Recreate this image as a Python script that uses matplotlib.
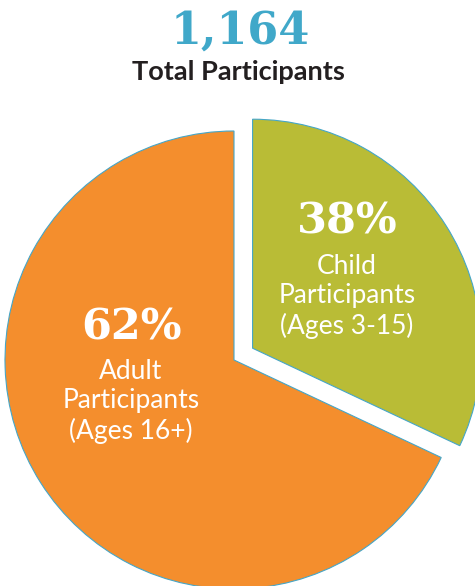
import matplotlib.pyplot as plt

# datos del gráfico
total = "1,164"
groups = ["Child\nParticipants\n(Ages 3-15)", "Adult\nParticipants\n(Ages 16+)"]
pct_labels = ["38%", "62%"]
# ángulos tal como están dibujados en la imagen (no coinciden exactamente con 38/62)
drawn_share = [32, 68]
colors = ["#B9BC36", "#F48E2D"]

W, H = 475, 586
fig = plt.figure(figsize=(W / 100, H / 100), dpi=100)
fig.patch.set_facecolor("white")
ax = fig.add_axes([0, 0, 1, 1])

wedges, _ = ax.pie(drawn_share, colors=colors, startangle=90, counterclock=False,
                   center=(234, 226), radius=229, explode=[22, 0],
                   wedgeprops=dict(edgecolor="#45A6C8", linewidth=0.8))

ax.set_xlim(0, W)
ax.set_ylim(0, H)
ax.set_aspect("equal")
ax.axis("off")

# titulo
ax.text(240, 555, total, ha="center", va="center", fontsize=32, fontweight="bold",
        family="DejaVu Serif", color="#40A8C9")
ax.text(238, 514, "Total Participants", ha="center", va="center", fontsize=19.5,
        fontweight="bold", family="Lato", color="#231F20")

# etiquetas dentro de las porciones
label_pos = [(347, 364), (131, 259)]
for (x, y), pct, txt in zip(label_pos, pct_labels, groups):
    ax.text(x, y, pct, ha="center", va="center", fontsize=31, fontweight="bold",
            family="DejaVu Serif", color="white")
    ax.text(x, y - 32, txt, ha="center", va="top", fontsize=19, family="Lato",
            color="white", linespacing=1.22)

plt.savefig("out.png", dpi=100)
